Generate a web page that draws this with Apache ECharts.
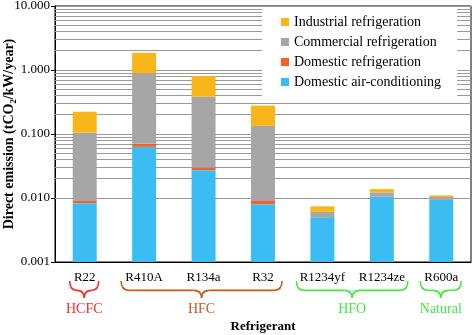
<!DOCTYPE html>
<html>
<head>
<meta charset="utf-8">
<script src="https://cdn.jsdelivr.net/npm/echarts@6/dist/echarts.min.js"></script>
<style>
  html, body {margin: 0; padding: 0; background: #fff;}
  #chart {width: 473px; height: 335px;}
</style>
</head>
<body>
<div id="chart"></div>
<script>
const refrigerants = ["R22", "R410A", "R134a", "R32", "R1234yf", "R1234ze", "R600a"];

// tCO2/kW/year, one value per refrigerant, stacked bottom to top
const domesticAirConditioning = [0.0083, 0.063, 0.0272, 0.0080, 0.0050, 0.01045, 0.0093];
const domesticRefrigeration = [0.0007, 0.0072, 0.0027, 0.0010, 0.00002, 0.00002, 0.00002];
const commercialRefrigeration = [0.096, 0.82, 0.353, 0.125, 0.00106, 0.00175, 0.00106];
const industrialRefrigeration = [0.118, 0.97, 0.422, 0.144, 0.00133, 0.00157, 0.0006];

// minor grid lines of the log axis
const minorGridValues = [];
[0.001, 0.01, 0.1, 1].forEach((decade) => {
  [2, 3, 4, 5, 6, 7, 8, 9].forEach((m) => minorGridValues.push(decade * m));
});

// refrigerant families shown with braces under the axis
const groupNames = ["HCFC", "HFC", "HFO", "Natural"];
const groupFirst = ["R22", "R410A", "R1234yf", "R600a"];
const groupLast = ["R22", "R32", "R1234ze", "R600a"];

const groupColors = ["#ff2a2a", "#c55a1c", "#44e844", "#44e844"];
const groupPadLeft = [15, 23, 26, 21];
const groupPadRight = [14, 19, 26, 20];

const serif = "Liberation Serif";
const gridColor = "#999999";

const chart = echarts.init(document.getElementById("chart"));

const barSeries = (name, data, color) => ({
  name: name,
  type: "bar",
  stack: "total",
  barWidth: 24,
  data: data,
  itemStyle: {color: color},
});

const acSeries = barSeries("Domestic air-conditioning", domesticAirConditioning, "#3bbdf3");
acSeries.markLine = {
  silent: true,
  symbol: "none",
  z: 1,
  label: {show: false},
  lineStyle: {color: gridColor, type: "solid", width: 1},
  data: minorGridValues.map(v => ({yAxis: v})),
};

chart.setOption({
  animation: false,
  textStyle: {fontFamily: serif, color: "#000"},
  grid: {
    left: 55, right: 2, top: 6, bottom: 73,
    show: true, borderColor: "#000", borderWidth: 1,
    containLabel: false, outerBoundsMode: "none",
  },
  legend: {
    orient: "vertical",
    left: 262,
    top: 7,
    padding: [8, 16, 8, 19],
    itemGap: 6,
    itemWidth: 8,
    itemHeight: 8,
    icon: "rect",
    selectedMode: false,
    backgroundColor: "#fff",
    textStyle: {fontFamily: serif, fontSize: 14, color: "#000"},
    data: ["Industrial refrigeration", "Commercial refrigeration", "Domestic refrigeration", "Domestic air-conditioning"],
  },
  xAxis: {
    type: "category",
    data: refrigerants,
    name: "Refrigerant",
    nameLocation: "middle",
    nameGap: 58,
    nameMoveOverlap: false,
    nameTextStyle: {fontFamily: serif, fontSize: 13, fontWeight: "bold", color: "#000"},
    axisLine: {lineStyle: {color: "#000"}},
    axisTick: {alignWithLabel: true, length: 4, lineStyle: {color: "#000"}},
    axisLabel: {interval: 0, fontFamily: serif, fontSize: 13, color: "#000", margin: 9},
  },
  yAxis: {
    type: "log",
    logBase: 10,
    min: 0.001,
    max: 10,
    startValue: 0.001,
    name: "Direct emission (tCO\u2082/kW/year)",
    nameLocation: "middle",
    nameGap: 39,
    nameMoveOverlap: false,
    nameTextStyle: {fontFamily: serif, fontSize: 14, fontWeight: "bold", color: "#000"},
    axisLine: {show: true, lineStyle: {color: "#000"}},
    axisTick: {show: true, length: 4, lineStyle: {color: "#000"}},
    axisLabel: {fontFamily: serif, fontSize: 13, color: "#000", margin: 5, formatter: (v) => Number(v).toFixed(3)},
    splitLine: {show: true, lineStyle: {color: gridColor, width: 1}},
  },
  series: [
    acSeries,
    barSeries("Domestic refrigeration", domesticRefrigeration, "#f2622a"),
    barSeries("Commercial refrigeration", commercialRefrigeration, "#a6a6a6"),
    barSeries("Industrial refrigeration", industrialRefrigeration, "#f8b619"),
  ],
});

// braces and family names under the category labels
const braceTop = 281;
const braceBottom = 298;
const groupTextY = 309;

const braceParts = (x1, x2, color) => {
  const xc = (x1 + x2) / 2;
  const ym = braceTop + (braceBottom - braceTop) * 0.55;
  const r = Math.min(8, (xc - x1) / 2);
  const style = {stroke: color, lineWidth: 1.6, fill: null};
  const curve = (ax, ay, bx, by, cx, cy) => ({
    type: "bezierCurve", silent: true, style: style,
    shape: {x1: ax, y1: ay, x2: bx, y2: by, cpx1: cx, cpy1: cy},
  });
  const line = (ax, bx) => ({
    type: "line", silent: true, style: style,
    shape: {x1: ax, y1: ym, x2: bx, y2: ym},
  });
  return [
    curve(x1, braceTop, x1 + r, ym, x1, ym),
    line(x1 + r, xc - r),
    curve(xc - r, ym, xc, braceBottom, xc, ym),
    curve(xc, braceBottom, xc + r, ym, xc, ym),
    line(xc + r, x2 - r),
    curve(x2 - r, ym, x2, braceTop, x2, ym),
  ];
};

const graphics = [];
groupNames.forEach((name, i) => {
  const x1 = chart.convertToPixel({xAxisIndex: 0}, groupFirst[i]) - groupPadLeft[i];
  const x2 = chart.convertToPixel({xAxisIndex: 0}, groupLast[i]) + groupPadRight[i];
  braceParts(x1, x2, groupColors[i]).forEach(p => graphics.push(p));
  graphics.push({
    type: "text",
    x: (x1 + x2) / 2,
    y: groupTextY,
    silent: true,
    style: {text: name, fill: groupColors[i], font: "14px " + serif, textAlign: "center", textVerticalAlign: "middle"},
  });
});
chart.setOption({graphic: graphics});
</script>
</body>
</html>
